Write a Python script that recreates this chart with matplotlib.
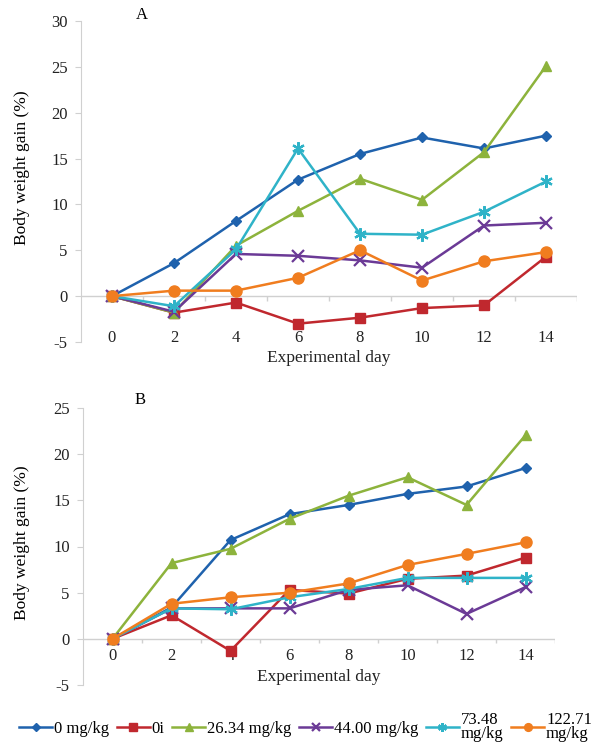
# 체중 증가율 그래프 (A, B 두 패널)
import numpy as np
import matplotlib
matplotlib.use('Agg')
import matplotlib.pyplot as plt

plt.rcParams['font.family'] = ['Liberation Serif', 'DejaVu Serif']
plt.rcParams['axes.unicode_minus'] = False

# 1. 데이터
days = [0, 2, 4, 6, 8, 10, 12, 14]
labels = ['0 mg/kg', '0i', '26.34 mg/kg', '44.00 mg/kg', '73.48\nmg/kg', '122.71\nmg/kg']

# 패널 A
a_0 = [0, 3.6, 8.2, 12.7, 15.5, 17.3, 16.1, 17.5]
a_0i = [0, -1.8, -0.7, -3.0, -2.35, -1.3, -1.0, 4.3]
a_26 = [0, -1.8, 5.5, 9.3, 12.8, 10.5, 15.7, 25.1]
a_44 = [0, -1.7, 4.6, 4.4, 3.9, 3.1, 7.7, 8.0]
a_73 = [0, -1.1, 5.1, 16.1, 6.8, 6.7, 9.2, 12.5]
a_122 = [0, 0.6, 0.6, 2.0, 5.0, 1.7, 3.8, 4.8]

# 패널 B
b_0 = [0, 3.4, 10.7, 13.5, 14.5, 15.7, 16.5, 18.5]
b_0i = [0, 2.55, -1.3, 5.3, 4.9, 6.5, 6.85, 8.8]
b_26 = [0, 8.2, 9.75, 13.0, 15.5, 17.5, 14.5, 22.05]
b_44 = [0, 3.3, 3.3, 3.3, 5.3, 5.8, 2.7, 5.6]
b_73 = [0, 3.3, 3.2, 4.5, 5.4, 6.6, 6.6, 6.6]
b_122 = [0, 3.8, 4.5, 5.0, 6.0, 8.0, 9.2, 10.45]

# 스타일
colors = ['#1f62ad', '#c0282e', '#8db33c', '#6b3a96', '#2fb3c8', '#f07d1f']
markers = ['D', 's', '^', 'x', (6, 2, 0), 'o']
msizes = [5.5, 7.5, 7.5, 8, 9, 8]
gray = '#d0d0d0'


def draw_panel(ax, series, ylim, tick_pad, xlabel_y):
    x = np.arange(len(days))
    lines = []
    for i, ys in enumerate(series):
        ln, = ax.plot(x, ys, color=colors[i], marker=markers[i], markersize=msizes[i],
                      markeredgewidth=1.6 if i in (3, 4) else 1, lw=1.8, label=labels[i])
        lines.append(ln)
    ax.set_xlim(-0.5, len(days) - 0.5)
    ax.set_ylim(*ylim)
    ax.set_yticks(np.arange(ylim[0], ylim[1] + 1, 5))
    # 0 위치 가로축 + 눈금
    ax.axhline(0, color=gray, lw=1, zorder=0)
    ax.vlines(np.arange(0.5, len(days), 1), -0.5, 0, color=gray, lw=1, zorder=0)
    for s in ['top', 'right', 'bottom']:
        ax.spines[s].set_visible(False)
    ax.spines['left'].set_color(gray)
    ax.tick_params(axis='y', colors=gray, labelcolor='#222222', length=4, pad=5.5, labelsize=12)
    ax.set_xticks(x)
    ax.set_xticklabels([str(d) for d in days])
    ax.tick_params(axis='x', length=0, pad=tick_pad, labelsize=12, labelcolor='#222222')
    ax.text(0.5, xlabel_y, 'Experimental day', transform=ax.transAxes, ha='center',
            va='center', fontsize=12.5, color='#222222')
    return lines


fig = plt.figure(figsize=(6.11, 7.43), dpi=100)

# 패널 A
ax1 = fig.add_axes([81 / 611, 1 - 342 / 743, 496 / 611, 321 / 743])
lines = draw_panel(ax1, [a_0, a_0i, a_26, a_44, a_73, a_122], (-5, 30), -8.6, -0.05)
fig.text(142 / 611, 1 - 15 / 743, 'A', ha='center', va='center', fontsize=12)
fig.text(22 / 611, 1 - 168 / 743, 'Body weight gain (%)', rotation=90,
         ha='center', va='center', fontsize=12.5)

# 패널 B
ax2 = fig.add_axes([83 / 611, 1 - 685 / 743, 472 / 611, 277 / 743])
draw_panel(ax2, [b_0, b_0i, b_26, b_44, b_73, b_122], (-5, 25), -26.6, 0.029)
fig.text(140 / 611, 1 - 400 / 743, 'B', ha='center', va='center', fontsize=12)
fig.text(22 / 611, 1 - 543 / 743, 'Body weight gain (%)', rotation=90,
         ha='center', va='center', fontsize=12.5)

# 범례
leg = fig.legend(handles=lines, loc='center', bbox_to_anchor=(0.5, 1 - 727 / 743), ncol=6,
                 frameon=False, fontsize=12, handlelength=2.0, handletextpad=0.1,
                 columnspacing=0.45, markerscale=0.7, borderpad=0.1)
for t in leg.get_texts():
    t.set_linespacing(0.75)

plt.savefig('out.png', dpi=100)
